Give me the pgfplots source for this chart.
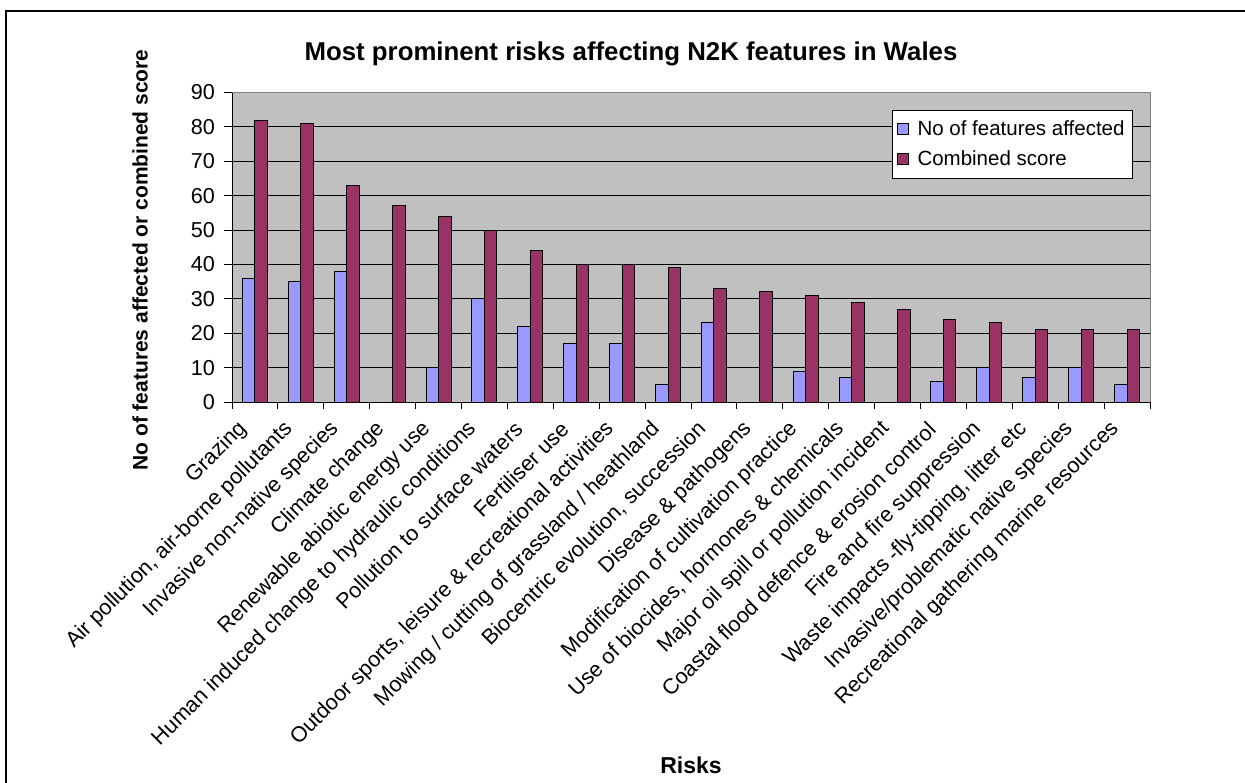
\documentclass[border=0pt]{standalone}
\usepackage{fontspec}
\setmainfont{Liberation Sans}
\usepackage{pgfplots}
\pgfplotsset{compat=1.18}
\definecolor{barblue}{HTML}{9999FF}
\definecolor{barred}{HTML}{993366}
\definecolor{plotbg}{HTML}{C0C0C0}
\definecolor{plotedge}{HTML}{808080}
\begin{document}
\begin{tikzpicture}
\useasboundingbox (-116pt,-190pt) rectangle (506.5pt,201pt);
\draw[line width=1pt] (-112.75pt,-191pt) -- (-112.75pt,195.5pt) -- (507pt,195.5pt);
\begin{axis}[
at={(0,0)},anchor=south west,
width=459pt,height=154.75pt,scale only axis,
xmin=0.5,xmax=20.5,ymin=0,ymax=90,
ytick={0,10,...,90},
xtick={1,...,20},
xticklabels={Grazing,{Air pollution, air-borne pollutants},Invasive non-native species,Climate change,
Renewable abiotic energy use,Human induced change to hydraulic conditions,Pollution to surface waters,
Fertiliser use,{Outdoor sports, leisure \& recreational activities},Mowing / cutting of grassland / heathland,
{Biocentric evolution, succession},Disease \& pathogens,Modification of cultivation practice,
{Use of biocides, hormones \& chemicals},Major oil spill or pollution incident,
Coastal flood defence \& erosion control,Fire and fire suppression,{Waste impacts -fly-tipping, litter etc},
Invasive/problematic native species,Recreational gathering marine resources},
tick pos=left,
xtick style={draw=none},
extra x ticks={0.5,1.5,...,20.5},
extra x tick labels={},
extra x tick style={xtick style={draw=black,line width=0.5pt},major tick length=3.5pt,grid=none},
tick align=outside,major tick length=4pt,
ytick style={draw=black,line width=0.5pt},
ymajorgrids,grid style={black,line width=0.5pt},
axis background/.style={fill=plotbg},
axis line style={draw=none},
ybar=0pt,bar width=6.25pt,
clip=false,
tick label style={font=\fontsize{10.8}{12}\selectfont},
/pgf/number format/assume math mode=true,
yticklabel style={xshift=-1pt},
xticklabel style={xshift=-5pt,yshift=-7pt,rotate=45,anchor=east,inner sep=1pt},
legend style={at={(rel axis cs:0.9815,0.9435)},anchor=north east,draw=black,fill=white,
  line width=0.5pt,font=\fontsize{10.25}{12}\selectfont,row sep=2pt,inner xsep=2pt,inner ysep=3pt},
legend cell align=left,
]
\addplot[fill=barblue,draw=black,line width=0.5pt,
  legend image code/.code={\draw[fill=barblue,draw=black,line width=0.5pt] (0pt,-2.75pt) rectangle (5.5pt,2.75pt);\path (8pt,0pt);}]
coordinates {(1,36) (2,35) (3,38) (4,0) (5,10) (6,30) (7,22) (8,17) (9,17) (10,5)
(11,23) (12,0) (13,9) (14,7) (15,0) (16,6) (17,10) (18,7) (19,10) (20,5)};
\addlegendentry{No of features affected}
\addplot[fill=barred,draw=black,line width=0.5pt,
  legend image code/.code={\draw[fill=barred,draw=black,line width=0.5pt] (0pt,-2.75pt) rectangle (5.5pt,2.75pt);\path (8pt,0pt);}]
coordinates {(1,82) (2,81) (3,63) (4,57) (5,54) (6,50) (7,44) (8,40) (9,40) (10,39)
(11,33) (12,32) (13,31) (14,29) (15,27) (16,24) (17,23) (18,21) (19,21) (20,21)};
\addlegendentry{Combined score}
\draw[plotedge,line width=0.5pt] (rel axis cs:0,1) -- (rel axis cs:1,1) -- (rel axis cs:1,0);
\draw[black,line width=0.5pt] (rel axis cs:0,1) -- (rel axis cs:0,0) -- (rel axis cs:1,0);
\end{axis}
\node[font=\bfseries\fontsize{12.9}{14}\selectfont] at (199.5pt,174pt) {Most prominent risks affecting N2K features in Wales};
\node[font=\bfseries\fontsize{10.5}{12}\selectfont,rotate=90] at (-46pt,71pt) {No of features affected or combined score};
\node[font=\bfseries\fontsize{11.5}{13}\selectfont] at (229.5pt,-181.5pt) {Risks};
\end{tikzpicture}
\end{document}
